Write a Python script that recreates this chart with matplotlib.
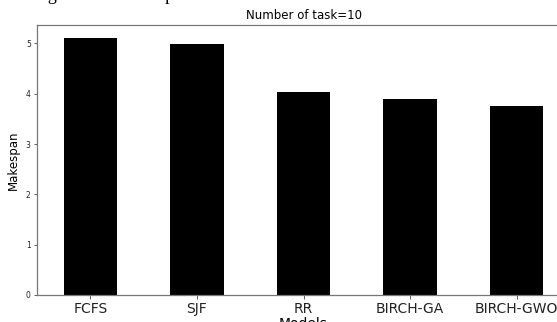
import numpy as np
import matplotlib.pyplot as plt

# makespan per scheduling model, 10 tasks
models = ["FCFS", "SJF", "RR", "BIRCH-GA", "BIRCH-GWO"]
makespan = [5.11, 4.99, 4.03, 3.89, 3.76]

fig = plt.figure(figsize=(5.57, 3.22), dpi=100)
# axes run on past the right edge of the saved image
ax = fig.add_axes([37 / 557, 27 / 322, 533 / 557, 270 / 322])

x = np.arange(len(models))
ax.bar(x, makespan, width=0.5, color="black")
ax.set_xlim(-0.5, len(models) - 0.5)

ax.set_xticks(x)
ax.set_xticklabels(models, fontsize=10)
ax.tick_params(axis="x", length=3, width=0.6, pad=2, colors="#444444", labelcolor="#222222")
ax.tick_params(axis="y", labelsize=5.5, length=2.5, width=0.6, pad=2, colors="#444444", labelcolor="#222222")

ax.set_title("Number of task=10", fontsize=8.5, pad=4)
ax.set_ylabel("Makespan", fontsize=8.5, labelpad=4)
ax.set_xlabel("Models", fontsize=10, labelpad=1)

for side in ["top", "bottom", "left"]:
    ax.spines[side].set_color("#777777")
    ax.spines[side].set_linewidth(0.9)
ax.spines["right"].set_visible(False)

# tail of the paragraph line above the figure
fig.text(0.0, 1.0, "existing models is compared", fontsize=13,
         family="Liberation Serif", va="baseline", ha="left",
         transform=fig.transFigure)

fig.savefig("out.png", dpi=100)
